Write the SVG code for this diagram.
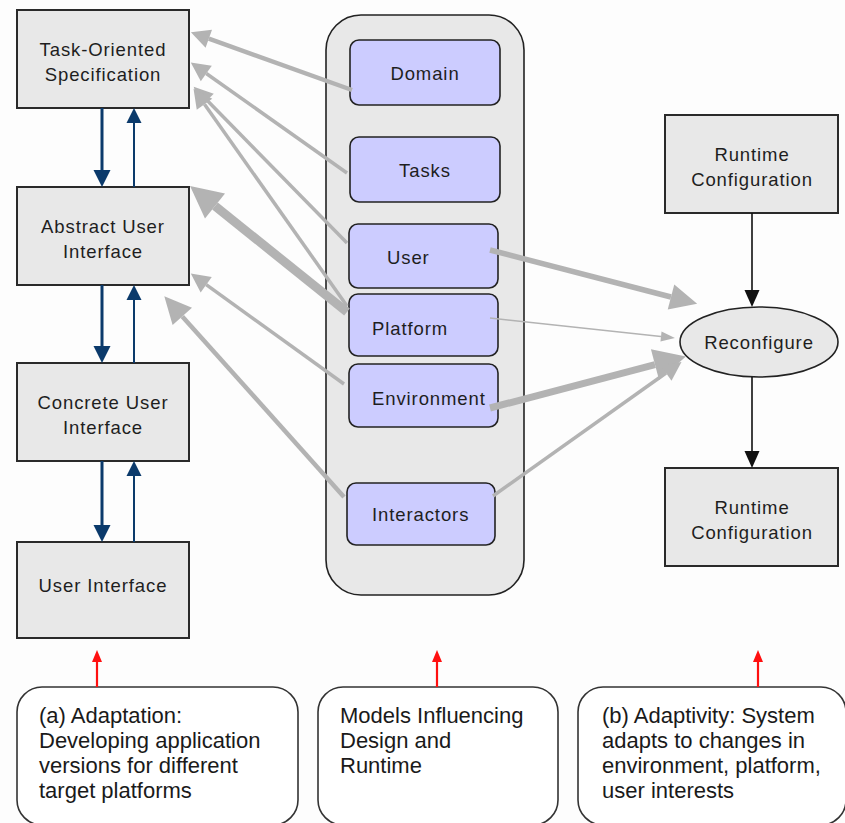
<svg xmlns="http://www.w3.org/2000/svg" width="845" height="823" viewBox="0 0 845 823">
  <style>
    .box { fill: #e8e8e8; stroke: #2a2a2a; stroke-width: 2; }
    .model { fill: #ccccff; stroke: #222; stroke-width: 1.6; }
    .note { fill: #ffffff; stroke: #333; stroke-width: 1.6; }
    .lbl { font-family: "Liberation Sans", Arial, sans-serif; font-size: 18.5px; fill: #1e1e1e; letter-spacing: 0.9px; text-anchor: middle; }
    .ml { font-family: "Liberation Sans", Arial, sans-serif; font-size: 18.5px; fill: #1e1e1e; letter-spacing: 0.9px; }
    .nt { font-family: "Liberation Sans", Arial, sans-serif; font-size: 22px; fill: #1a1a1a; }
    .gray { stroke: #b3b3b3; fill: none; stroke-linecap: butt; }
    .blue { stroke: #0b3a6b; fill: none; }
    .blk { stroke: #111; stroke-width: 1.6; fill: none; }
    .red { stroke: #ff1010; stroke-width: 2.2; fill: none; }
  </style>
  <defs>
    <marker id="gS" markerUnits="userSpaceOnUse" markerWidth="40" markerHeight="40" refX="0" refY="0" orient="auto" overflow="visible">
      <path d="M0,-9.5 L19,0 L0,9.5 Z" fill="#b3b3b3"/>
    </marker>
    <marker id="gXS" markerUnits="userSpaceOnUse" markerWidth="40" markerHeight="40" refX="0" refY="0" orient="auto" overflow="visible">
      <path d="M0,-5 L14,0 L0,5 Z" fill="#b3b3b3"/>
    </marker>
    <marker id="gM" markerUnits="userSpaceOnUse" markerWidth="40" markerHeight="40" refX="0" refY="0" orient="auto" overflow="visible">
      <path d="M0,-13 L27,0 L0,13 Z" fill="#b3b3b3"/>
    </marker>
    <marker id="gL" markerUnits="userSpaceOnUse" markerWidth="40" markerHeight="40" refX="0" refY="0" orient="auto" overflow="visible">
      <path d="M0,-16 L32,0 L0,16 Z" fill="#b3b3b3"/>
    </marker>
    <marker id="bD" markerUnits="userSpaceOnUse" markerWidth="30" markerHeight="30" refX="0" refY="0" orient="auto" overflow="visible">
      <path d="M0,-8.5 L17,0 L0,8.5 Z" fill="#0b3a6b"/>
    </marker>
    <marker id="bU" markerUnits="userSpaceOnUse" markerWidth="30" markerHeight="30" refX="0" refY="0" orient="auto" overflow="visible">
      <path d="M0,-7.5 L15,0 L0,7.5 Z" fill="#0b3a6b"/>
    </marker>
    <marker id="kH" markerUnits="userSpaceOnUse" markerWidth="30" markerHeight="30" refX="0" refY="0" orient="auto" overflow="visible">
      <path d="M0,-7.5 L17,0 L0,7.5 Z" fill="#111"/>
    </marker>
    <marker id="rH" markerUnits="userSpaceOnUse" markerWidth="30" markerHeight="30" refX="0" refY="0" orient="auto" overflow="visible">
      <path d="M0,-5 L12,0 L0,5 Z" fill="#ff1010"/>
    </marker>
  </defs>

  <rect x="0" y="0" width="845" height="823" fill="#fdfdfd"/>

  <!-- models container -->
  <g id="models">
    <rect x="326" y="15" width="198" height="580" rx="35" ry="35" fill="#e8e8e8" stroke="#222" stroke-width="1.6"/>
  </g>

  <!-- design-time chain -->
  <g id="task-spec">
    <rect class="box" x="17" y="10" width="172" height="98"/>
    <text class="lbl" x="103" y="56">Task-Oriented</text>
    <text class="lbl" x="103" y="81">Specification</text>
  </g>
  <g id="abstract-ui">
    <rect class="box" x="17" y="187" width="172" height="98"/>
    <text class="lbl" x="103" y="233">Abstract User</text>
    <text class="lbl" x="103" y="258">Interface</text>
  </g>
  <g id="concrete-ui">
    <rect class="box" x="17" y="363" width="172" height="98"/>
    <text class="lbl" x="103" y="409">Concrete User</text>
    <text class="lbl" x="103" y="434">Interface</text>
  </g>
  <g id="user-interface">
    <rect class="box" x="17" y="542" width="172" height="96"/>
    <text class="lbl" x="103" y="592">User Interface</text>
  </g>

  <!-- model entries -->
  <g id="domain">
    <rect class="model" x="350" y="40" width="150" height="65" rx="9"/>
    <text class="lbl" x="425" y="80">Domain</text>
  </g>
  <g id="tasks">
    <rect class="model" x="350" y="137" width="150" height="65" rx="9"/>
    <text class="lbl" x="425" y="177">Tasks</text>
  </g>
  <g id="user">
    <rect class="model" x="349" y="224" width="149" height="64" rx="9"/>
    <text class="ml" x="387" y="264">User</text>
  </g>
  <g id="platform">
    <rect class="model" x="349" y="294" width="149" height="62" rx="9"/>
    <text class="ml" x="372" y="335">Platform</text>
  </g>
  <g id="environment">
    <rect class="model" x="349" y="364" width="149" height="63" rx="9"/>
    <text class="ml" x="372" y="405">Environment</text>
  </g>
  <g id="interactors">
    <rect class="model" x="347" y="483" width="148" height="62" rx="9"/>
    <text class="ml" x="372" y="521">Interactors</text>
  </g>

  <!-- runtime side -->
  <g id="runtime-config-top">
    <rect class="box" x="665" y="115" width="173" height="98"/>
    <text class="lbl" x="752" y="161">Runtime</text>
    <text class="lbl" x="752" y="186">Configuration</text>
  </g>
  <g id="reconfigure">
    <ellipse cx="759" cy="342" rx="79" ry="35" fill="#e8e8e8" stroke="#222" stroke-width="1.6"/>
    <text class="lbl" x="759" y="349">Reconfigure</text>
  </g>
  <g id="runtime-config-bottom">
    <rect class="box" x="665" y="468" width="173" height="98"/>
    <text class="lbl" x="752" y="514">Runtime</text>
    <text class="lbl" x="752" y="539">Configuration</text>
  </g>

  <!-- notes -->
  <g id="note-adaptation">
    <rect class="note" x="17" y="687" width="281" height="138" rx="25"/>
    <text class="nt" x="39" y="723">(a) Adaptation:</text>
    <text class="nt" x="39" y="748">Developing application</text>
    <text class="nt" x="39" y="773">versions for different</text>
    <text class="nt" x="39" y="798">target platforms</text>
  </g>
  <g id="note-models">
    <rect class="note" x="318" y="687" width="240" height="138" rx="25"/>
    <text class="nt" x="340" y="723">Models Influencing</text>
    <text class="nt" x="340" y="748">Design and</text>
    <text class="nt" x="340" y="773">Runtime</text>
  </g>
  <g id="note-adaptivity">
    <rect class="note" x="578" y="687" width="268" height="138" rx="25"/>
    <text class="nt" x="602" y="723">(b) Adaptivity: System</text>
    <text class="nt" x="602" y="748">adapts to changes in</text>
    <text class="nt" x="602" y="773">environment, platform,</text>
    <text class="nt" x="602" y="798">user interests</text>
  </g>

  <g id="connectors">
    <!-- refinement / abstraction between levels -->
    <line class="blue" x1="102" y1="108" x2="102" y2="170" stroke-width="3" marker-end="url(#bD)"/>
    <line class="blue" x1="134" y1="187" x2="134" y2="123" stroke-width="2" marker-end="url(#bU)"/>
    <line class="blue" x1="102" y1="285" x2="102" y2="346" stroke-width="3" marker-end="url(#bD)"/>
    <line class="blue" x1="134" y1="363" x2="134" y2="300" stroke-width="2" marker-end="url(#bU)"/>
    <line class="blue" x1="102" y1="461" x2="102" y2="525" stroke-width="3" marker-end="url(#bD)"/>
    <line class="blue" x1="134" y1="542" x2="134" y2="476" stroke-width="2" marker-end="url(#bU)"/>

    <!-- model influence on design levels -->
    <line class="gray" x1="352" y1="90" x2="208.8" y2="38.7" stroke-width="4.5" marker-end="url(#gS)"/>
    <line class="gray" x1="347" y1="173" x2="206.3" y2="73.5" stroke-width="3.5" marker-end="url(#gS)"/>
    <line class="gray" x1="347" y1="243" x2="207" y2="100.3" stroke-width="3.5" marker-end="url(#gS)"/>
    <line class="gray" x1="347" y1="306" x2="204.5" y2="104.3" stroke-width="3.5" marker-end="url(#gS)"/>
    <line class="gray" x1="347" y1="312" x2="215" y2="206" stroke-width="9" marker-end="url(#gL)"/>
    <line class="gray" x1="344" y1="384" x2="206.2" y2="284.7" stroke-width="3.5" marker-end="url(#gS)"/>
    <line class="gray" x1="344" y1="497" x2="182.3" y2="316.4" stroke-width="4.5" marker-end="url(#gM)"/>

    <!-- model influence on reconfiguration -->
    <line class="gray" x1="490" y1="250" x2="671" y2="297" stroke-width="5.5" marker-end="url(#gM)"/>
    <line class="gray" x1="490" y1="318" x2="661" y2="336.5" stroke-width="1.5" marker-end="url(#gXS)"/>
    <line class="gray" x1="490" y1="408" x2="655" y2="364.6" stroke-width="7" marker-end="url(#gL)"/>
    <line class="gray" x1="493" y1="496" x2="666" y2="373" stroke-width="3.5" marker-end="url(#gS)"/>

    <!-- runtime flow -->
    <line class="blk" x1="752" y1="213" x2="752" y2="290" marker-end="url(#kH)"/>
    <line class="blk" x1="752" y1="377" x2="752" y2="451" marker-end="url(#kH)"/>

    <!-- note pointers -->
    <line class="red" x1="97" y1="687" x2="97" y2="662" marker-end="url(#rH)"/>
    <line class="red" x1="437" y1="687" x2="437" y2="662" marker-end="url(#rH)"/>
    <line class="red" x1="758" y1="687" x2="758" y2="662" marker-end="url(#rH)"/>
  </g>
</svg>
